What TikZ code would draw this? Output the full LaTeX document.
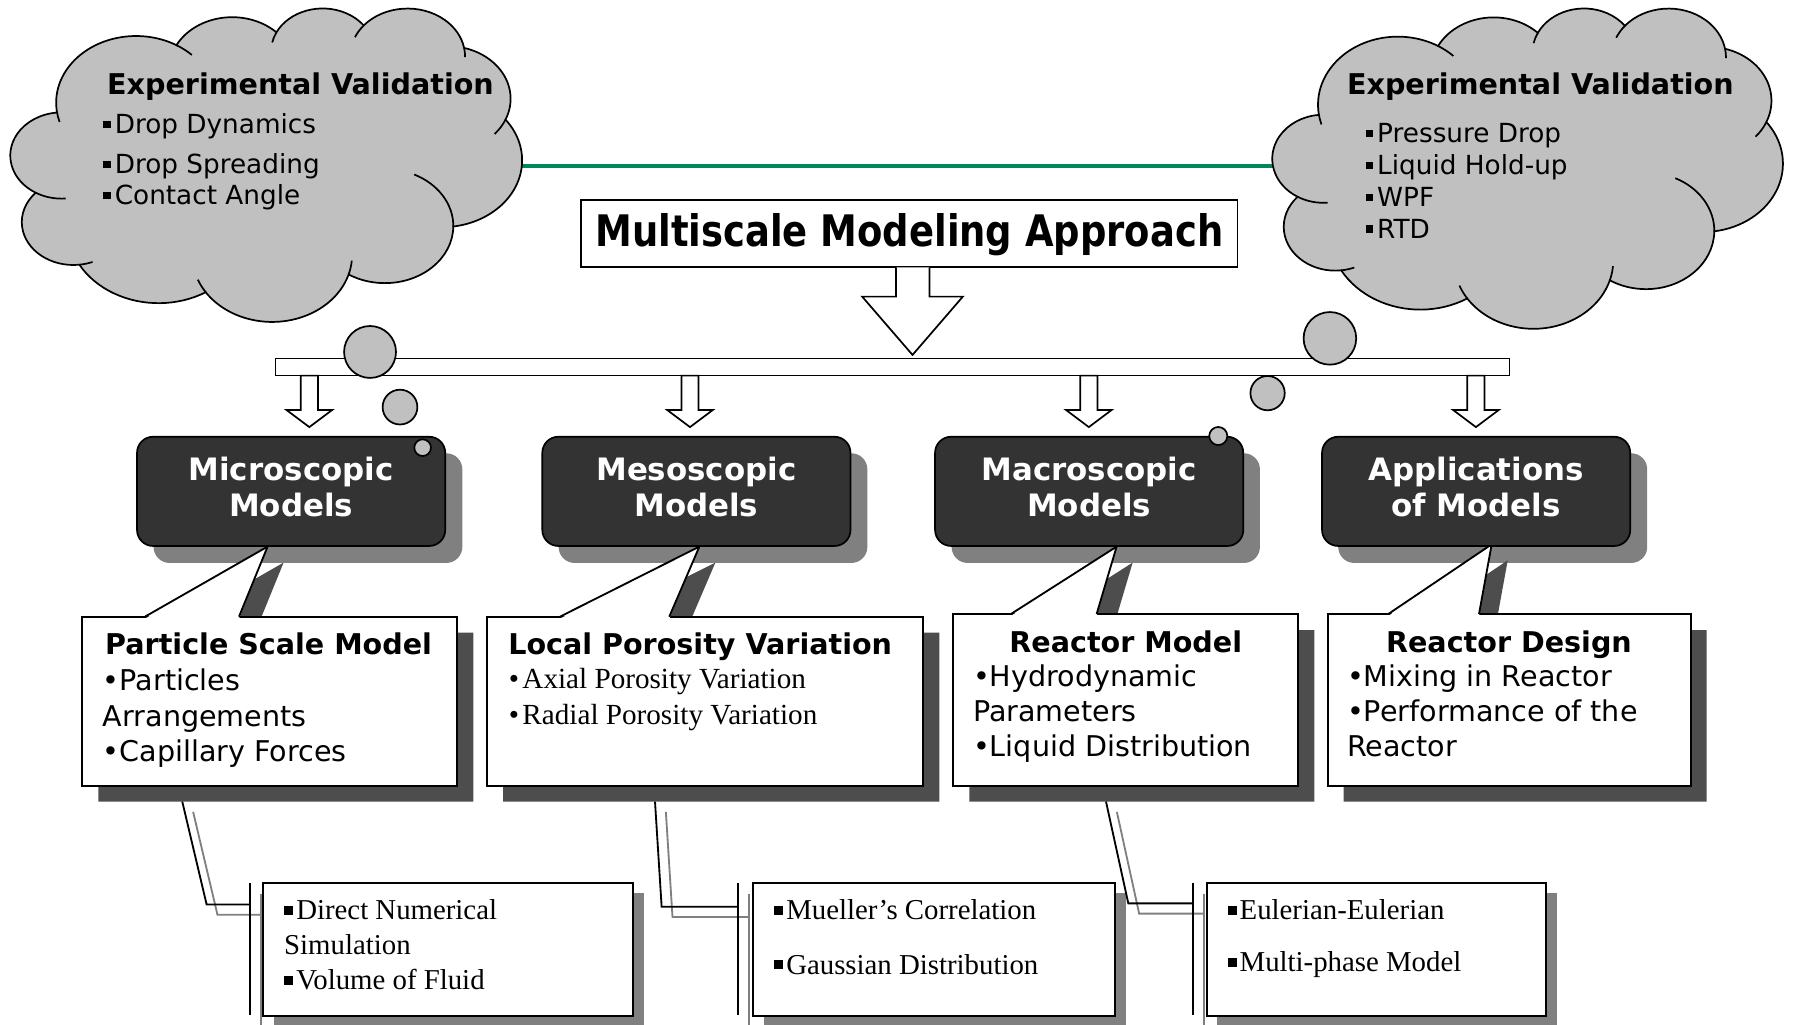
\documentclass[tikz,border=0pt]{standalone}
\usepackage{fontspec}
\usepackage{graphicx}
\setmainfont{DejaVu Sans}
\newfontfamily\serifTNR{Liberation Serif}
\usetikzlibrary{calc}
\definecolor{cloudgray}{HTML}{C0C0C0}
\definecolor{darkfill}{HTML}{333333}
\definecolor{shadowA}{HTML}{808080}
\definecolor{shadowB}{HTML}{4D4D4D}
\definecolor{linegreen}{HTML}{00875A}
\newcommand\sqbS{\rule[0.2em]{0.28em}{0.28em}\hspace{0.15em}}
\newcommand\sqbT{\rule[0.16em]{0.32em}{0.32em}\hspace{0.1em}}
\newcommand\linesL[1]{\begin{tabular}[t]{@{}l@{}}#1\end{tabular}}
\newcommand\linesC[1]{\begin{tabular}[t]{@{}c@{}}#1\end{tabular}}
\newcommand\mycloud{%
  \filldraw[fill=cloudgray, draw=black, line width=1.5pt]
    (90.28,332.64)
    arc[start angle=-187.745, end angle=-59.64, x radius=156.32, y radius=212.73]
    arc[start angle=-152.019, end angle=-45.437, x radius=123.45, y radius=168.22]
    arc[start angle=-153.482, end angle=-37.327, x radius=101.04, y radius=137.62]
    arc[start angle=-139.690, end angle=-10.211, x radius=112.43, y radius=152.66]
    arc[start angle=-74.768, end angle=23.210, x radius=123.45, y radius=168.36]
    arc[start angle=-37.52, end angle=81.863, x radius=156.83, y radius=213.43]
    arc[start angle=0.4596, end angle=121.982, x radius=133.91, y radius=182.11]
    arc[start angle=16.844, end angle=146.239, x radius=156.30, y radius=213.31]
    arc[start angle=58.983, end angle=150.20, x radius=178.70, y radius=244.05]
    arc[start angle=83.307, end angle=223.12, x radius=100.93, y radius=136.99]
    arc[start angle=120.35, end angle=264.11, x radius=100.58, y radius=137.62]
    -- cycle;
  \draw[line width=1.5pt] (245.17,303.97) ++(-59.64:156.32 and 212.73) arc[start angle=-59.64, end angle=-45.75, x radius=156.32, y radius=212.73];
  \draw[line width=1.5pt] (245.17,303.97) ++(163.19:156.32 and 212.73) arc[start angle=163.19, end angle=172.255, x radius=156.32, y radius=212.73];
  \draw[line width=1.5pt] (610.26,140.94) ++(-167.72:101.04 and 137.62) arc[start angle=-167.72, end angle=-153.482, x radius=101.04, y radius=137.62];
  \draw[line width=1.5pt] (776.35,156.25) ++(-10.211:112.43 and 152.66) arc[start angle=-10.211, end angle=0.818, x radius=112.43, y radius=152.66];
  \draw[line width=1.5pt] (776.35,156.25) ++(-156.28:112.43 and 152.66) arc[start angle=-156.28, end angle=-139.69, x radius=112.43, y radius=152.66];
  \draw[line width=1.5pt] (854.57,291.63) ++(23.21:123.45 and 168.36) arc[start angle=23.21, end angle=41.74, x radius=123.45, y radius=168.36];
  \draw[line width=1.5pt] (731.93,697.78) ++(-64.6:133.91 and 182.11) arc[start angle=-64.6, end angle=0.4596, x radius=133.91, y radius=182.11];
  \draw[line width=1.5pt] (511.42,790.45) ++(146.239:156.30 and 213.31) arc[start angle=146.239, end angle=158.47, x radius=156.30, y radius=213.31];
  \draw[line width=1.5pt] (511.42,790.45) ++(4.735:156.30 and 213.31) arc[start angle=4.735, end angle=16.844, x radius=156.30, y radius=213.31];
  \draw[line width=1.5pt] (122.57,685.09) ++(68.23:100.93 and 136.99) arc[start angle=68.23, end angle=83.307, x radius=100.93, y radius=136.99];
  \draw[line width=1.5pt] (99.74,472.68) ++(85.54:100.58 and 137.62) arc[start angle=85.54, end angle=120.35, x radius=100.58, y radius=137.62];
}
\begin{document}
\begin{tikzpicture}[x=1pt,y=-1pt,
  txt/.style={inner sep=0pt, outer sep=0pt},
  bubble/.style={circle, draw=black, line width=1.5pt, fill=cloudgray, inner sep=0pt},
  darkbox/.style={rectangle, rounded corners=14pt, draw=black, line width=1.5pt, fill=darkfill, text=white, minimum width=269.5pt, minimum height=95.5pt, inner sep=0pt, font=\fontsize{27}{32}\selectfont\bfseries},
  dshadow/.style={fill=shadowA, rounded corners=14pt},
  cbox/.style={rectangle, draw=black, line width=1.6pt, fill=white, inner sep=0pt},
  lowbox/.style={rectangle, draw=black, line width=1.8pt, fill=white, inner sep=0pt, minimum height=116.6pt},
  conn/.style={draw=black, line width=1.6pt},
  connsh/.style={draw=shadowA, line width=1.6pt},
  blockarrow/.style={draw=black, fill=white, line width=1.5pt},
  ctitle/.style={txt, font=\fontsize{25}{31}\selectfont\bfseries},
  cbody/.style={txt, font=\fontsize{25}{31}\selectfont},
  sbody/.style={txt, font=\serifTNR\fontsize{25.5}{32}\selectfont},
  lowtext/.style={txt, font=\serifTNR\fontsize{25.2}{30.6}\selectfont}
]
\useasboundingbox (0,0) rectangle (1568,896);
\fill[white] (0,0) rectangle (1568,896);

% green link between the clouds
\coordinate (lc-east) at (450,145.5);
\coordinate (rc-west) at (1120,145.5);
\draw[linegreen, line width=3.5pt] (lc-east) -- (rc-west);

% clouds
\begin{scope}[shift={(9.4,6.5)}, x=0.447pt, y=-0.274pt]
  \mycloud
\end{scope}
\begin{scope}[shift={(1113,6.5)}, x=0.446pt, y=-0.280pt]
  \mycloud
\end{scope}

\node[txt, anchor=base west, font=\fontsize{25}{30}\selectfont\bfseries] (lc-title) at (93.7,83) {Experimental Validation};
\node[txt, anchor=base west, font=\fontsize{23}{27}\selectfont] (lc-list) at (90.5,116.6)
  {\linesL{\sqbS Drop Dynamics\\[8pt]\sqbS Drop Spreading\\\sqbS Contact Angle}};
\node[txt, anchor=base west, font=\fontsize{25}{30}\selectfont\bfseries] (rc-title) at (1178,83) {Experimental Validation};
\node[txt, anchor=base west, font=\fontsize{23}{27.8}\selectfont] (rc-list) at (1194.5,124.8)
  {\linesL{\sqbS Pressure Drop\\\sqbS Liquid Hold-up\\\sqbS WPF\\\sqbS RTD}};

% title and main arrow
\node[draw=black, line width=1.5pt, fill=white, minimum width=573.9pt, minimum height=58.9pt, inner sep=0pt,
      text height=28pt, text depth=5.3pt, font=\fontsize{38}{40}\selectfont\bfseries] (title) at (795.25,204.35)
  {\scalebox{0.85}[1]{Multiscale Modeling Approach}};
\draw[blockarrow] (783.6,233.8) -- (783.6,259.4) -- (754,259.4) -- (798,310.4) -- (842,259.4) -- (812.9,259.4) -- (812.9,233.8);

% distribution bar and arrows
\node[draw=black, line width=1.5pt, fill=white, minimum width=1079pt, minimum height=15pt, inner sep=0pt] (bar) at (780.5,321) {};
\foreach \ax in {270.5,603.4,952.2,1290.7}{
  \begin{scope}[shift={(\ax,0)}]
    \draw[blockarrow] (-7.5,328.5) -- (-7.5,358.5) -- (-20,358.5) -- (0,373.5) -- (20,358.5) -- (7.5,358.5) -- (7.5,328.5) -- cycle;
  \end{scope}
}

% cloud bubbles
\node[bubble, minimum size=45.4pt] (lb1) at (323.6,307.8) {};
\node[bubble, minimum size=30.4pt] (lb2) at (349.8,356) {};
\node[bubble, minimum size=46pt] (rb1) at (1163,295.9) {};
\node[bubble, minimum size=30pt] (rb2) at (1108.5,343.8) {};

% ---- column 1: microscopic
\fill[dshadow] (134.3,396.4) rectangle (404.3,492.3);
\fill[shadowB, shift={(14,14)}] (72,539.3) -- (126.8,539.3) -- (234,478) -- (209,539.3) -- (400,539.3) -- (400,687) -- (72,687) -- cycle;
\node[cbox, minimum width=328pt, minimum height=147.7pt] (psm) at (236,613.15) {};
\fill[white] (126.8,541) -- (234,478) -- (209,541) -- cycle;
\draw[line width=1.6pt] (126.8,539.3) -- (234,478) -- (209,539.3);
\node[darkbox] (micro) at (254.6,429.7) {\linesC{Microscopic\\Models}};
\node[bubble, minimum size=14.6pt] (lb3) at (369.6,391.5) {};
\node[ctitle, anchor=base west] (psm-title) at (92,572.8) {Particle Scale Model};
\node[cbody, anchor=base west] (psm-body) at (90,604) {\linesL{•Particles\\Arrangements\\•Capillary Forces}};

% ---- column 2: mesoscopic
\fill[dshadow] (488.5,396.4) rectangle (758.5,492.3);
\fill[shadowB, shift={(14,14)}] (426,539.3) -- (489.7,539.3) -- (611.6,478) -- (585.3,539.3) -- (807.5,539.3) -- (807.5,687) -- (426,687) -- cycle;
\node[cbox, minimum width=381.5pt, minimum height=147.7pt] (lpv) at (616.75,613.15) {};
\fill[white] (489.7,541) -- (611.6,478) -- (585.3,541) -- cycle;
\draw[line width=1.6pt] (489.7,539.3) -- (611.6,478) -- (585.3,539.3);
\node[darkbox] (meso) at (609,429.7) {\linesC{Mesoscopic\\Models}};
\node[ctitle, anchor=base west] (lpv-title) at (444.5,572.8) {Local Porosity Variation};
\node[sbody, anchor=base west] (lpv-body) at (445,602) {\linesL{•\hspace{3pt}Axial Porosity Variation\\•\hspace{3pt}Radial Porosity Variation}};

% ---- column 3: macroscopic
\fill[dshadow] (832.2,396.4) rectangle (1101.8,492.3);
\fill[shadowB, shift={(14,14)}] (833.7,537) -- (884,537) -- (976.5,478) -- (959,537) -- (1135.4,537) -- (1135.4,687) -- (833.7,687) -- cycle;
\node[cbox, minimum width=301.7pt, minimum height=150pt] (rm) at (984.55,612) {};
\fill[white] (884,538.7) -- (976.5,478) -- (959,538.7) -- cycle;
\draw[line width=1.6pt] (884,537) -- (976.5,478) -- (959,537);
\node[darkbox] (macro) at (952.5,429.7) {\linesC{Macroscopic\\Models}};
\node[bubble, minimum size=15.8pt] (rb3) at (1065.4,381.3) {};
\node[ctitle, anchor=base] (rm-title) at (984.5,570.5) {Reactor Model};
\node[cbody, anchor=base west, font=\fontsize{25}{30.6}\selectfont] (rm-body) at (851,600.5) {\linesL{•Hydrodynamic\\Parameters\\•Liquid Distribution}};

% ---- column 4: applications
\fill[dshadow] (1170.3,396.4) rectangle (1440.5,492.3);
\fill[shadowB, shift={(14,14)}] (1161,537) -- (1214,537) -- (1304.5,476) -- (1293.4,537) -- (1478.5,537) -- (1478.5,687) -- (1161,687) -- cycle;
\node[cbox, minimum width=317.5pt, minimum height=150pt] (rd) at (1319.75,612) {};
\fill[white] (1214,538.7) -- (1304.5,476) -- (1293.4,538.7) -- cycle;
\draw[line width=1.6pt] (1214,537) -- (1304.5,476) -- (1293.4,537);
\node[darkbox] (apps) at (1290.9,429.7) {\linesC{Applications\\of Models}};
\node[ctitle, anchor=base] (rd-title) at (1319.6,570.5) {Reactor Design};
\node[cbody, anchor=base west, font=\fontsize{25}{30.6}\selectfont] (rd-body) at (1178,600.5) {\linesL{•Mixing in Reactor\\•Performance of the\\Reactor}};

% ---- bottom line callouts
\coordinate (psm-tail) at (159.4,701);
\coordinate (lpv-tail) at (572.8,701);
\coordinate (rm-tail) at (967.2,701);

% shadows
\fill[shadowA] (239.8,780.9) rectangle (563.4,897.5);
\fill[shadowA] (668.3,780.9) rectangle (984.5,897.5);
\fill[shadowA] (1064.7,780.9) rectangle (1361.2,897.5);
\draw[connsh] (228.1,782) -- (228.1,897);
\draw[connsh] (228.1,800) -- (190.2,800) -- (168.9,710);
\draw[connsh] (655.2,782) -- (655.2,897);
\draw[connsh] (655.2,801.9) -- (588.1,801.9) -- (582.3,710);
\draw[connsh] (1053.1,782) -- (1053.1,897);
\draw[connsh] (1053.1,799) -- (996.2,799) -- (976.7,710);

\node[lowbox, minimum width=323.6pt] (dns) at (392.1,830.2) {};
\node[lowbox, minimum width=316.2pt] (mc) at (816.9,830.2) {};
\node[lowbox, minimum width=296.5pt] (ee) at (1203.45,830.2) {};

\coordinate (dns-bar-t) at (218.6,772.5);
\coordinate (dns-bar-b) at (218.6,887.6);
\coordinate (dns-bar-m) at (218.6,791);
\coordinate (mc-bar-t) at (645.7,772.5);
\coordinate (mc-bar-b) at (645.7,887.6);
\coordinate (mc-bar-m) at (645.7,792.9);
\coordinate (ee-bar-t) at (1043.6,772.5);
\coordinate (ee-bar-b) at (1043.6,887.6);
\coordinate (ee-bar-m) at (1043.6,790);
\draw[conn] (dns-bar-t) -- (dns-bar-b);
\draw[conn] (dns-bar-m) -- (180.7,791) -- (psm-tail);
\draw[conn] (mc-bar-t) -- (mc-bar-b);
\draw[conn] (mc-bar-m) -- (578.6,792.9) -- (lpv-tail);
\draw[conn] (ee-bar-t) -- (ee-bar-b);
\draw[conn] (ee-bar-m) -- (986.7,790) -- (rm-tail);

\node[lowtext, anchor=base west] (dns-text) at (248.5,804.5) {\linesL{\sqbT Direct Numerical\\Simulation\\\sqbT Volume of Fluid}};
\node[lowtext, anchor=base west] (mc-text) at (677,804.5) {\linesL{\sqbT Mueller’s Correlation\\[16.7pt]\sqbT Gaussian Distribution}};
\node[lowtext, anchor=base west] (ee-text) at (1073.5,804.5) {\linesL{\sqbT Eulerian-Eulerian\\[14.6pt]\sqbT Multi-phase Model}};
\end{tikzpicture}
\end{document}
